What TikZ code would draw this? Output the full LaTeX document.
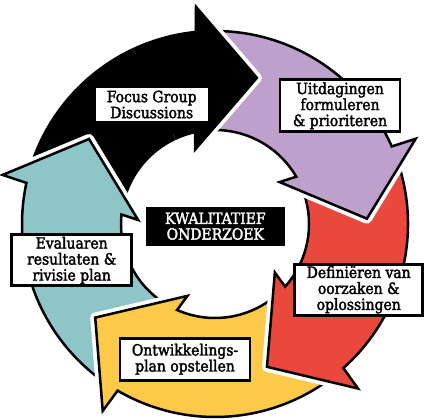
\documentclass[tikz,border=0pt]{standalone}
\usepackage{fontspec}
\setmainfont{DejaVu Serif}
\newfontfamily\lblfont[RawFeature={embolden=2.2}]{DejaVu Serif Condensed}
\definecolor{cpurple}{RGB}{189,160,204}
\definecolor{cred}{RGB}{234,72,60}
\definecolor{cyellow}{RGB}{252,202,72}
\definecolor{cteal}{RGB}{142,197,199}
\newcommand\Ro{193}
\newcommand\Ri{94}
\newcommand\ringarrow[1]{({#1+90}:\Ro) arc[start angle={#1+90}, end angle={#1+21.7}, radius=\Ro]
  -- ({#1+21}:218) -- ({#1}:152) -- ({#1+31}:77) -- ({#1+28.2}:\Ri)
  arc[start angle={#1+28.2}, end angle={#1+92}, radius=\Ri] -- ({#1+78}:152) -- cycle}
\newcommand\drawring[2]{%
  \path[whiteedge] \ringarrow{#1};
  \path[arrowbody, fill=#2] \ringarrow{#1};}
\begin{document}
\begin{tikzpicture}[x=1pt,y=1pt,
  whiteedge/.style={draw=white, line width=10, line join=round},
  arrowbody/.style={draw=black, line width=2.5, line join=miter},
  lbl/.style={draw=black, line width=2.7, fill=white, align=center, inner sep=1,
    font=\lblfont\fontsize{15.5}{16}\selectfont},
  centerlbl/.style={fill=black, text=white, align=center, inner sep=1,
    font=\lblfont\fontsize{15.5}{15.7}\selectfont}]
\useasboundingbox (0,0) rectangle (427,419);
\begin{scope}[shift={(215,195)}]
  \drawring{74}{black}
  \drawring{146}{cteal}
  \drawring{-142}{cyellow}
  \drawring{-70}{cred}
  \drawring{2}{cpurple}
  \begin{scope}
    \clip (0,0) -- (60:260) arc[start angle=60, end angle=115, radius=260] -- cycle;
    \drawring{74}{black}
  \end{scope}
\end{scope}
\node[lbl, minimum width=115, minimum height=36] (fg) at (151.7,314.5) {Focus Group\\Discussions};
\node[lbl, minimum width=120, minimum height=52] (ui) at (340,313.2) {Uitdagingen\\formuleren\\\& prioriteren};
\node[lbl, minimum width=120, minimum height=51] (ev) at (71.7,158.7) {Evaluaren\\resultaten \&\\rivisie plan};
\node[lbl, minimum width=128, minimum height=51] (de) at (358.7,129.3) {Definiëren van\\oorzaken \&\\oplossingen};
\node[lbl, minimum width=130, minimum height=42] (on) at (185,59.8) {Ontwikkelings-\\plan opstellen};
\node[centerlbl, minimum width=139, minimum height=39] (kw) at (215.3,192.8) {KWALITATIEF\\ONDERZOEK};
\end{tikzpicture}
\end{document}
